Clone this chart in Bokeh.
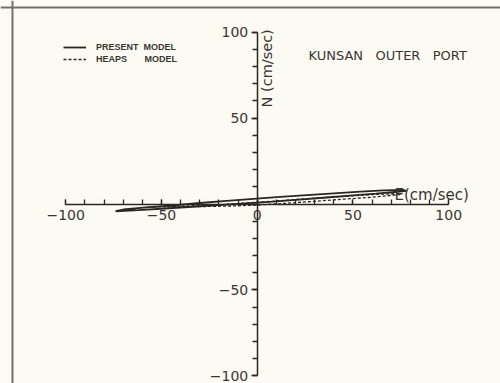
import math
from bokeh.plotting import figure
from bokeh.models import (Range1d, LinearAxis, SingleIntervalTicker, Label,
                          Legend, LegendItem, Span)
from bokeh.embed import file_html
from bokeh.resources import INLINE

# ---- data (E, N velocity components in cm/sec) ----
present_e = [-74, -62, -48, -34, -20, -6, 8, 22, 36, 50, 62, 72, 78, 76, 66, 54, 40, 26, 12, -2, -16, -30, -44, -58, -70, -74]
present_n = [-4.2, -3.6, -2.6, -1.6, -0.6, 0.4, 1.4, 2.6, 3.8, 5.0, 6.0, 7.0, 7.6, 8.2, 8.0, 7.2, 6.2, 5.2, 4.2, 3.0, 1.8, 0.6, -0.8, -2.0, -3.2, -4.2]

heaps_e = [-57, -45, -30, -15, 0, 15, 30, 45, 58, 68, 75, 72, 62, 50, 36, 22, 8, -6, -20, -34, -48, -57]
heaps_n = [-1.8, -1.6, -1.5, -1.2, -0.6, 0.4, 1.6, 2.8, 3.8, 4.8, 5.6, 6.0, 5.6, 4.8, 3.8, 2.8, 1.6, 0.6, -0.4, -1.0, -1.5, -1.8]

x_tick_values = [-100, -50, 0, 50, 100]
x_tick_labels = ["\u2212100", "\u221250", "0", "50", "100"]
y_tick_values = [-100, -50, 0, 50, 100]
y_tick_labels = ["\u2212100", "\u221250", "", "50", "100"]

series_names = ["PRESENT\u00a0\u00a0MODEL", "HEAPS\u00a0\u00a0\u00a0\u00a0\u00a0\u00a0\u00a0MODEL"]
title_text = "KUNSAN\u00a0\u00a0\u00a0OUTER\u00a0\u00a0\u00a0PORT"

INK = "#2b2622"
TXT = "#3a3532"
BG = "#fcfbf3"

p = figure(width=500, height=383,
           x_range=Range1d(-134.05, 127.05), y_range=Range1d(-104.5, 118.5),
           output_backend="svg", toolbar_location=None,
           x_axis_location=None, y_axis_location=None, min_border=0)
p.background_fill_color = BG
p.border_fill_color = BG
p.outline_line_color = None
p.xgrid.visible = False
p.ygrid.visible = False

# scan frame edges
p.add_layout(Span(location=-127.8, dimension="height", line_color="#707070", line_width=2))
p.add_layout(Span(location=114.4, dimension="width", line_color="#707070", line_width=2))

xa = LinearAxis(fixed_location=0,
                ticker=SingleIntervalTicker(interval=50, num_minor_ticks=5),
                bounds=(-100, 100))
xa.major_tick_in = 5
xa.major_tick_out = 0
xa.minor_tick_in = 5
xa.minor_tick_out = 0
xa.axis_line_color = INK
xa.axis_line_width = 1.5
xa.major_tick_line_color = INK
xa.minor_tick_line_color = INK
xa.major_tick_line_width = 1.3
xa.minor_tick_line_width = 1.3
xa.major_label_standoff = 6
xa.major_label_text_font = "DejaVu Sans"
xa.major_label_text_font_size = "14px"
xa.major_label_text_color = TXT
xa.major_label_overrides = dict(zip(x_tick_values, x_tick_labels))
p.add_layout(xa, "below")

ya = LinearAxis(fixed_location=0,
                ticker=SingleIntervalTicker(interval=50, num_minor_ticks=5),
                bounds=(-100, 100))
ya.major_tick_in = 0
ya.major_tick_out = 6
ya.minor_tick_in = 0
ya.minor_tick_out = 5
ya.axis_line_color = INK
ya.axis_line_width = 1.5
ya.major_tick_line_color = INK
ya.minor_tick_line_color = INK
ya.major_tick_line_width = 1.3
ya.minor_tick_line_width = 1.3
ya.major_label_standoff = 3
ya.major_label_text_font = "DejaVu Sans"
ya.major_label_text_font_size = "14px"
ya.major_label_text_color = TXT
ya.major_label_overrides = dict(zip(y_tick_values, y_tick_labels))
p.add_layout(ya, "left")

r1 = p.line(present_e, present_n, line_color=INK, line_width=1.8)
r2 = p.line(heaps_e, heaps_n, line_color=INK, line_width=1.3, line_dash="3 2")

legend = Legend(items=[LegendItem(label=series_names[0], renderers=[r1]),
                       LegendItem(label=series_names[1], renderers=[r2])],
                location=(63, 319), padding=0, margin=0, spacing=2,
                glyph_width=23, glyph_height=8, label_height=8,
                label_standoff=10, label_text_font="Liberation Sans",
                label_text_font_style="bold", label_text_font_size="9px",
                label_text_color=TXT, background_fill_alpha=0,
                border_line_color=None)
p.add_layout(legend)

p.add_layout(Label(x=26.8, y=86.5, text=title_text, text_font="DejaVu Sans",
                   text_font_size="13px", text_color=TXT,
                   text_baseline="middle", text_align="left"))
p.add_layout(Label(x=5.3, y=79.0, text="N (cm/sec)", angle=math.pi / 2,
                   text_font="DejaVu Sans", text_font_size="14.5px", text_color=TXT,
                   text_baseline="middle", text_align="center"))
p.add_layout(Label(x=71.7, y=5.5, text="E(cm/sec)", text_font="DejaVu Sans",
                   text_font_size="15px", text_color=TXT,
                   text_baseline="middle", text_align="left"))

open("out.html", "w").write(file_html(p, INLINE))
